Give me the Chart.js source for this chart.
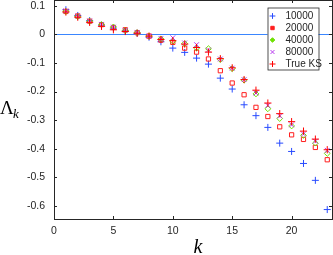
<!DOCTYPE html>
<html>
<head>
<meta charset="utf-8">
<script src="https://cdn.jsdelivr.net/npm/chart.js@4.4.1/dist/chart.umd.min.js"></script>
<style>
  html, body { margin: 0; padding: 0; background: #fff; overflow: hidden; }
  #wrap { width: 333px; height: 255px; position: relative; }
  canvas { display: block; }
</style>
</head>
<body>
<div id="wrap"><canvas id="myChart" width="333" height="255"></canvas></div>
<script>
// k values and the five series
var kValues = [1, 2, 3, 4, 5, 6, 7, 8, 9, 10, 11, 12, 13, 14, 15, 16, 17, 18, 19, 20, 21, 22, 23];
var s10000 = [0.086, 0.066, 0.048, 0.032, 0.022, 0.012, 0.004, -0.010, -0.026, -0.048, -0.063, -0.083, -0.104, -0.153, -0.191, -0.246, -0.284, -0.325, -0.380, -0.409, -0.451, -0.510, -0.612];
var s20000 = [0.080, 0.064, 0.046, 0.034, 0.024, 0.016, 0.006, -0.006, -0.020, -0.028, -0.048, -0.062, -0.086, -0.127, -0.170, -0.211, -0.255, -0.287, -0.323, -0.351, -0.367, -0.395, -0.438];
var s40000 = [0.080, 0.062, 0.046, 0.034, 0.026, 0.013, 0.006, -0.006, -0.016, -0.024, -0.032, -0.048, -0.050, -0.088, -0.120, -0.160, -0.208, -0.260, -0.294, -0.320, -0.353, -0.380, -0.416];
var s80000 = [0.082, 0.064, 0.047, 0.035, 0.025, 0.014, 0.007, -0.006, -0.014, -0.012, -0.030, -0.036, -0.055, -0.086, -0.118, -0.158, -0.205, -0.248, -0.285, -0.316, -0.348, -0.373, -0.405];
var trueKS = [0.078, 0.060, 0.042, 0.028, 0.016, 0.010, 0.004, -0.006, -0.018, -0.022, -0.034, -0.046, -0.062, -0.085, -0.117, -0.158, -0.195, -0.240, -0.277, -0.305, -0.338, -0.366, -0.403];

var xTicks = [0, 5, 10, 15, 20];
var yTicks = [-0.6, -0.5, -0.4, -0.3, -0.2, -0.1, 0, 0.1];
var legendLabels = ['10000', '20000', '40000', '80000', 'True KS'];

var axisColor = '#262626';
var tickFont = { family: '"Liberation Sans", Arial, sans-serif', size: 10.5 };

function pts(arr) {
    return arr.map(function (v, i) { return { x: kValues[i], y: v }; });
}

var series = [
    { label: legendLabels[0], data: s10000, style: 'cross', color: 'rgb(40,75,255)', r: 3.5, order: 5 },
    { label: legendLabels[1], data: s20000, style: 'rect', color: 'rgb(255,30,30)', r: 3.0, order: 4 },
    { label: legendLabels[2], data: s40000, style: 'rectRot', color: 'rgb(110,225,0)', r: 2.9, order: 3 },
    { label: legendLabels[3], data: s80000, style: 'crossRot', color: 'rgb(185,60,240)', r: 3.4, order: 2 },
    { label: legendLabels[4], data: trueKS, style: 'cross', color: 'rgb(255,0,0)', r: 3.6, order: 1 }
];

// inside ticks, legend and axis titles
var extras = {
    id: 'extras',
    afterDraw: function (chart) {
        var c = chart.ctx, a = chart.chartArea;
        var xs = chart.scales.x, ys = chart.scales.y;
        c.save();
        c.strokeStyle = axisColor;
        c.lineWidth = 1;
        c.beginPath();
        xTicks.forEach(function (t) {
            var px = Math.round(xs.getPixelForValue(t)) + 0.5;
            c.moveTo(px, a.bottom); c.lineTo(px, a.bottom - 3);
            c.moveTo(px, a.top); c.lineTo(px, a.top + 3);
        });
        yTicks.forEach(function (t) {
            var py = Math.round(ys.getPixelForValue(t)) + 0.5;
            c.moveTo(a.left, py); c.lineTo(a.left + 3, py);
            c.moveTo(a.right, py); c.lineTo(a.right - 3, py);
        });
        c.stroke();

        // legend
        var lx = a.right - 64.5, ly = a.top + 7.5, lw = 51, lh = 62;
        c.fillStyle = '#fff';
        c.fillRect(lx, ly, lw, lh);
        c.lineWidth = 0.8;
        c.strokeRect(lx + 0.5, ly + 0.5, lw, lh);
        c.font = '10px "Liberation Sans", Arial, sans-serif';
        c.textBaseline = 'middle';
        c.textAlign = 'left';
        series.forEach(function (s, i) {
            var yy = ly + 8.5 + i * 12;
            c.strokeStyle = s.color;
            c.fillStyle = s.color;
            c.lineWidth = 1;
            Chart.helpers.drawPoint(c, { pointStyle: s.style, radius: s.r - 0.6, borderWidth: 1 }, lx + 5, yy);
            c.fillStyle = axisColor;
            c.fillText(s.label, lx + 18, yy + 0.5);
        });

        // axis titles
        c.fillStyle = '#000';
        c.textBaseline = 'alphabetic';
        c.font = '19px "Liberation Serif", "DejaVu Serif", serif';
        c.fillText('\u039B', 0, 114);
        c.font = 'italic 13px "Liberation Serif", "DejaVu Serif", serif';
        c.fillText('k', 13, 118);
        c.font = 'italic 20px "Liberation Serif", "DejaVu Serif", serif';
        c.textAlign = 'center';
        c.fillText('k', (a.left + a.right) / 2 + 5, 253);
        c.restore();
    }
};

var hiddenAxis = function (pos, isX) {
    return {
        type: 'linear',
        position: pos,
        min: isX ? 0 : -0.645,
        max: isX ? 23.4 : 0.12,
        display: true,
        grid: { display: false, drawTicks: false },
        border: { display: true, color: axisColor, width: 1 },
        ticks: { display: false },
        afterFit: function (scale) {
            if (isX) { scale.height = 0; scale.paddingLeft = 0; scale.paddingRight = 0; }
            else { scale.width = 0; scale.paddingTop = 0; scale.paddingBottom = 0; }
        }
    };
};

var ctx = document.getElementById('myChart').getContext('2d');
var myChart = new Chart(ctx, {
    type: 'scatter',
    data: {
        datasets: series.map(function (s) {
            return {
                label: s.label,
                data: pts(s.data),
                pointStyle: s.style,
                pointRadius: s.r,
                pointBorderWidth: 1,
                pointBorderColor: s.color,
                pointBackgroundColor: 'rgba(255,255,255,0)',
                borderColor: s.color,
                backgroundColor: 'rgba(255,255,255,0)',
                order: s.order
            };
        })
    },
    options: {
        responsive: false,
        animation: false,
        events: [],
        layout: { autoPadding: false, padding: { top: 0, right: 1, left: 0, bottom: 0 } },
        plugins: { legend: { display: false }, tooltip: { enabled: false } },
        scales: {
            x: {
                type: 'linear',
                position: 'bottom',
                min: 0,
                max: 23.4,
                grid: { display: false, drawTicks: false },
                border: { display: true, color: axisColor, width: 1 },
                afterFit: function (scale) {
                    scale.height = 36;
                    scale.paddingLeft = 0;
                    scale.paddingRight = 0;
                },
                afterBuildTicks: function (scale) {
                    scale.ticks = xTicks.map(function (v) { return { value: v }; });
                },
                ticks: {
                    padding: 6,
                    maxRotation: 0,
                    color: axisColor,
                    font: tickFont,
                    callback: function (v) { return String(v); }
                }
            },
            y: {
                type: 'linear',
                position: 'left',
                min: -0.645,
                max: 0.12,
                grid: {
                    display: true,
                    drawTicks: false,
                    lineWidth: 1,
                    color: function (c) { return c.tick && c.tick.value === 0 ? '#3a86ff' : 'rgba(0,0,0,0)'; }
                },
                border: { display: true, color: axisColor, width: 1 },
                afterFit: function (scale) {
                    scale.width = 54;
                    scale.paddingTop = 0;
                    scale.paddingBottom = 0;
                },
                afterBuildTicks: function (scale) {
                    scale.ticks = yTicks.map(function (v) { return { value: v }; });
                },
                ticks: {
                    padding: 9,
                    color: axisColor,
                    font: tickFont,
                    callback: function (v) { return v === 0 ? '0' : v.toFixed(1); }
                }
            },
            xTop: hiddenAxis('top', true),
            yRight: hiddenAxis('right', false)
        }
    },
    plugins: [extras]
});
</script>
</body>
</html>
